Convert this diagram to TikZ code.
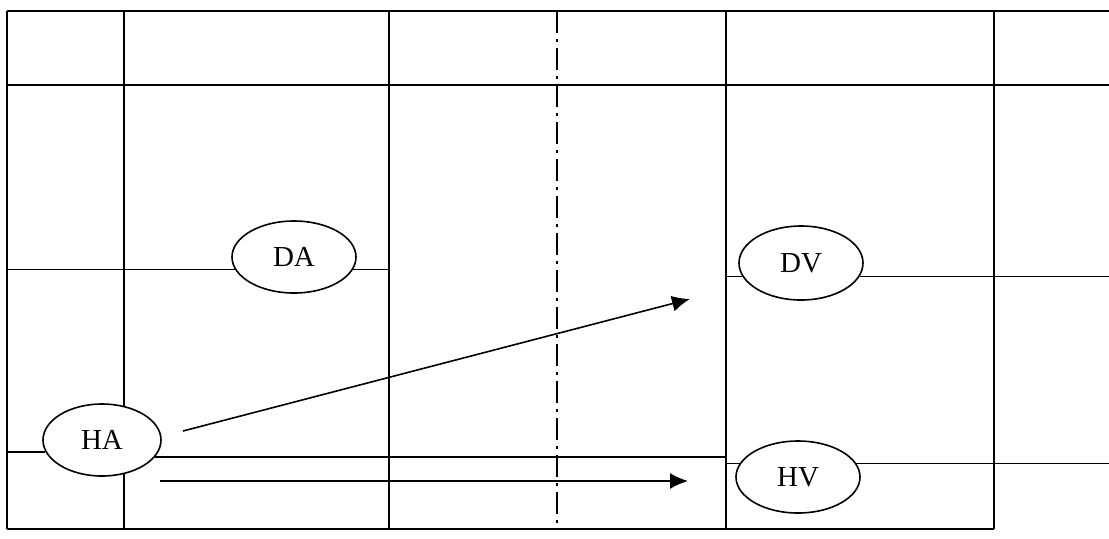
\documentclass[tikz,border=0pt]{standalone}
\usepackage{fontspec}
\setmainfont{Liberation Serif}
\usetikzlibrary{shapes.geometric,arrows.meta}

\tikzset{
  blob/.style={draw, ellipse, inner sep=0pt, minimum width=62pt, minimum height=36pt,
    font=\fontsize{14.5}{16}\selectfont},
  arr/.style={-{Latex[length=9pt,width=8pt]}},
  dashdot/.style={dash pattern=on 11pt off 3pt on 1.5pt off 3pt}
}

\begin{document}
\begin{tikzpicture}[x=0.5pt, y=-0.5pt, line width=0.8pt]
\useasboundingbox (0,0) rectangle (1109,538);

\coordinate (t0) at (7,11);
\coordinate (t1) at (124,11);
\coordinate (t2) at (389,11);
\coordinate (t3) at (557,11);
\coordinate (t4) at (726,11);
\coordinate (t5) at (994,11);
\coordinate (t6) at (1109,11);
\coordinate (m0) at (7,85);
\coordinate (m6) at (1109,85);
\coordinate (b0) at (7,529);
\coordinate (b1) at (124,529);
\coordinate (b2) at (389,529);
\coordinate (b3) at (557,529);
\coordinate (b4) at (726,529);
\coordinate (b5) at (994,529);

\node[blob] (DA) at (294,257) {DA};
\node[blob, minimum height=37pt] (DV) at (801,263) {DV};
\node[blob, minimum width=59pt] (HA) at (102,440) {HA};
\node[blob] (HV) at (798,477) {HV};

\draw (t0) -- (t6);
\draw (m0) -- (m6);
\draw (b0) -- (b5);
\draw (t0) -- (b0);
\draw (t2) -- (b2);
\draw [dashdot] (t3) -- (b3);
\draw (t4) -- (b4);
\draw (t5) -- (b5);
\draw (t1) -- (t1 |- HA.57);
\draw (b1) -- (b1 |- HA.-57);

\draw (DA.192) -- (DA.192 -| t0);
\draw (DA.-12) -- (DA.-12 -| t2);
\draw (DV.193) -- (DV.193 -| t4);
\draw (DV.-13) -- (DV.-13 -| t6);
\draw (HA.192) -- (HA.192 -| t0);
\draw (HA.-18) -- (HA.-18 -| t4);
\draw (HV.167) -- (HV.167 -| t4);
\draw (HV.13) -- (HV.13 -| t6);

\coordinate (s1) at (183,431);
\coordinate (e1) at (690,299);
\coordinate (s2) at (160,481);
\coordinate (e2) at (688,481);
\draw [arr] (s1) -- (e1);
\draw [arr] (s2) -- (e2);
\end{tikzpicture}
\end{document}
